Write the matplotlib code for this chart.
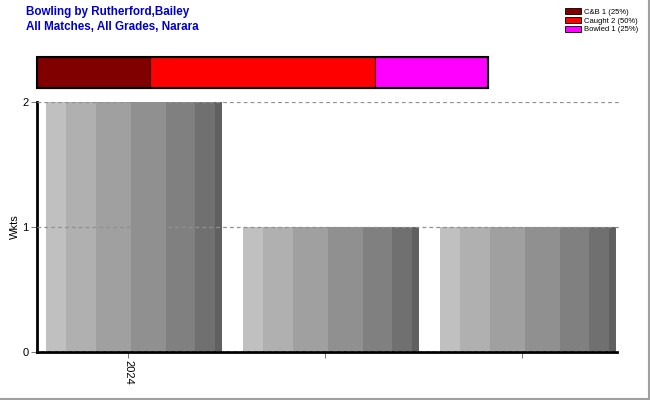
import matplotlib
matplotlib.use("Agg")
import matplotlib.pyplot as plt
from matplotlib.patches import Patch, Rectangle
from matplotlib.lines import Line2D

# Data
categories = ["2024", "", ""]
wickets = [2, 1, 1]
dismissal_types = ["C&B", "Caught", "Bowled"]
dismissal_counts = [1, 2, 1]
dismissal_colors = ["#800000", "#ff0000", "#ff00ff"]
title_lines = ["Bowling by Rutherford,Bailey", "All Matches, All Grades, Narara"]

plt.rcParams['font.family'] = ['Liberation Sans', 'DejaVu Sans']

fig = plt.figure(figsize=(6.5, 4.0), dpi=100)

# Main axes
ax = fig.add_axes([37/650, 48/400, 583/650, 250/400])
x = list(range(len(categories)))
bar_left = -0.417
bar_w = 0.896
stripe_bounds = [0, 0.113, 0.282, 0.48, 0.678, 0.847, 0.96, 1.0]
stripe_cols = ["#c0c0c0", "#b0b0b0", "#a0a0a0", "#909090", "#808080", "#707070", "#606060"]
for k in range(len(stripe_cols)):
    l = bar_left + stripe_bounds[k] * bar_w
    w = (stripe_bounds[k + 1] - stripe_bounds[k]) * bar_w
    ax.bar([xi + l for xi in x], wickets, width=w, align='edge',
           color=stripe_cols[k], edgecolor='none', linewidth=0, zorder=2)

ax.set_xlim(-0.462, 2.497)
ax.set_ylim(0, 2)
ax.set_yticks([0, 1, 2])
ax.set_yticklabels(["0", "1", "2"], fontsize=8)
ax.set_xticks(x)
ax.set_xticklabels(categories, rotation=-90, fontsize=8)
ax.set_ylabel("Wkts", fontsize=8, labelpad=2)
for yv in [0, 1, 2]:
    ax.axhline(yv, color='#909090', linestyle=(0, (3, 2.5)), linewidth=0.9, zorder=3)
ax.spines['top'].set_visible(False)
ax.spines['right'].set_visible(False)
ax.spines['left'].set_linewidth(2)
ax.spines['bottom'].set_linewidth(2)
ax.spines['bottom'].set_bounds(-0.462, 2.48)
ax.tick_params(axis='both', length=4, width=0.6, color='#606060', pad=2)

# Top stacked bar
bx = fig.add_axes([37/650, 312/400, 451/650, 31/400])
total = sum(dismissal_counts)
left = 0
for cnt, col in zip(dismissal_counts, dismissal_colors):
    bx.barh([0], [cnt], left=left, height=1, color=col, edgecolor='#400000',
            linewidth=0.8, clip_on=False)
    left += cnt
bx.add_patch(Rectangle((0, -0.5), total, 1, fill=False, edgecolor='black',
                       linewidth=1.5, clip_on=False, zorder=5))
bx.set_xlim(0, total)
bx.set_ylim(-0.5, 0.5)
bx.axis('off')

# Titles
fig.text(26/650, 1 - 12/400, title_lines[0], color='#0000cc', fontsize=8.4,
         fontweight='bold', va='center', ha='left')
fig.text(26/650, 1 - 27/400, title_lines[1], color='#0000cc', fontsize=8.4,
         fontweight='bold', va='center', ha='left')

# Legend
handles = [Patch(facecolor=c, edgecolor='black', linewidth=0.6) for c in dismissal_colors]
labels = [f"{t} {c} ({round(100*c/total)}%)" for t, c in zip(dismissal_types, dismissal_counts)]
fig.legend(handles, labels, loc='upper left', bbox_to_anchor=(560/650, 1 - 3/400),
           fontsize=5.5, frameon=False, handlelength=2.0, handleheight=0.8,
           labelspacing=0.15, handletextpad=0.5, borderpad=0.2)

# Figure border (right and bottom)
fig.add_artist(Line2D([648.5/650, 648.5/650], [0, 1], color='#a0a0a0', linewidth=1.5,
                      transform=fig.transFigure))
fig.add_artist(Line2D([0, 1], [1.5/400, 1.5/400], color='#a0a0a0', linewidth=1.5,
                      transform=fig.transFigure))

fig.savefig("out.png", dpi=100)
